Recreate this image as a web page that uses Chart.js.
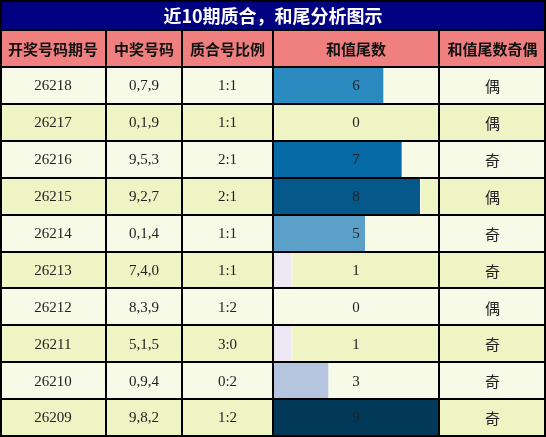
<!DOCTYPE html>
<html>
<head>
<meta charset="utf-8">
<script src="https://cdn.jsdelivr.net/npm/chart.js@4"></script>
<style>
  html,body{margin:0;padding:0;background:#fff;}
  #wrap{width:546px;height:437px;}
</style>
</head>
<body>
<div id="wrap"><canvas id="chart" width="546" height="437"></canvas></div>
<script>
// ===== DATA =====
const title = "近10期质合，和尾分析图示";
const headers = ["开奖号码期号", "中奖号码", "质合号比例", "和值尾数", "和值尾数奇偶"];
const periods = ["26218","26217","26216","26215","26214","26213","26212","26211","26210","26209"];
const numbers = ["0,7,9","0,1,9","9,5,3","9,2,7","0,1,4","7,4,0","8,3,9","5,1,5","0,9,4","9,8,2"];
const ratios = ["1:1","1:1","2:1","2:1","1:1","1:1","1:2","3:0","0:2","1:2"];
const tails = [6,0,7,8,5,1,0,1,3,9];
const parity = ["偶","偶","奇","偶","奇","奇","偶","奇","奇","奇"];

// ===== STYLE =====
const colX = [0,106,182,273,439,546];
const titleH = 30, headH = 67;
const blues = ["#fff7fb","#ece7f2","#d6d6e9","#b5c4df","#8fb4d6","#5ba0c9","#2b8abf","#056aa6","#04598a","#023858"];

const tablePlugin = {
  id: "table",
  beforeDraw(chart){
    const ctx = chart.ctx;
    const y = chart.scales.y;
    const W = chart.width;
    ctx.save();
    // row backgrounds
    periods.forEach((p,i)=>{
      const c = y.getPixelForValue(i);
      const h = y.getPixelForValue(1) - y.getPixelForValue(0);
      ctx.fillStyle = i % 2 === 0 ? "#f8fae8" : "#eff4c4";
      ctx.fillRect(0, c - h/2, W, h);
    });
    // title
    ctx.fillStyle = "#000080";
    ctx.fillRect(0,0,W,titleH);
    ctx.fillStyle = "#fff";
    ctx.font = "bold 18px 'Noto Sans CJK SC'";
    ctx.textAlign = "center";
    ctx.textBaseline = "middle";
    ctx.fillText(title, W/2, titleH/2 + 1);
    // header
    ctx.fillStyle = "#f08080";
    ctx.fillRect(0,titleH,W,headH-titleH);
    ctx.fillStyle = "#111";
    ctx.font = "bold 15px 'Noto Sans CJK SC'";
    headers.forEach((h,i)=>{
      ctx.fillText(h, (colX[i]+colX[i+1])/2, (titleH+headH)/2 + 1);
    });
    ctx.restore();
  },
  afterDatasetsDraw(chart){
    const ctx = chart.ctx;
    const y = chart.scales.y;
    const W = chart.width, H = chart.height;
    const h = y.getPixelForValue(1) - y.getPixelForValue(0);
    ctx.save();
    ctx.textAlign = "center";
    ctx.textBaseline = "middle";
    periods.forEach((p,i)=>{
      const c = y.getPixelForValue(i) + 1;
      ctx.fillStyle = "#222";
      ctx.font = "15px 'Liberation Serif'";
      ctx.fillText(p, (colX[0]+colX[1])/2, c);
      ctx.fillText(numbers[i], (colX[1]+colX[2])/2, c);
      ctx.fillText(ratios[i], (colX[2]+colX[3])/2, c);
      ctx.fillText(String(tails[i]), (colX[3]+colX[4])/2, c);
      ctx.font = "15px 'Noto Sans CJK SC'";
      ctx.fillText(parity[i], (colX[4]+colX[5])/2, c);
    });
    // grid lines
    ctx.strokeStyle = "#000";
    ctx.lineWidth = 2;
    ctx.beginPath();
    ctx.moveTo(0,titleH); ctx.lineTo(W,titleH);
    for(let i=0;i<=periods.length;i++){
      const yy = Math.round(y.getPixelForValue(i) - h/2);
      ctx.moveTo(0,yy); ctx.lineTo(W,yy);
    }
    colX.slice(1,-1).forEach(x=>{
      ctx.moveTo(x,titleH); ctx.lineTo(x,H);
    });
    ctx.stroke();
    ctx.lineWidth = 2;
    ctx.strokeRect(1,1,W-2,H-2);
    ctx.restore();
  }
};

new Chart(document.getElementById("chart"),{
  type:"bar",
  data:{
    labels: periods,
    datasets:[{
      data: tails,
      backgroundColor: tails.map(v=>blues[v]),
      borderColor: "rgba(255,255,255,0.7)",
      borderWidth: tails.map(v=> v ? {right:1} : 0),
      borderSkipped: false,
      categoryPercentage: 1,
      barPercentage: 1
    }]
  },
  options:{
    responsive:false,
    animation:false,
    devicePixelRatio:1,
    indexAxis:"y",
    layout:{padding:{left:colX[3]+1,right:546-colX[4],top:headH,bottom:1}},
    plugins:{legend:{display:false},tooltip:{enabled:false},title:{display:false}},
    scales:{
      x:{display:false,min:0,max:9},
      y:{display:false}
    }
  },
  plugins:[tablePlugin]
});
</script>
</body>
</html>
